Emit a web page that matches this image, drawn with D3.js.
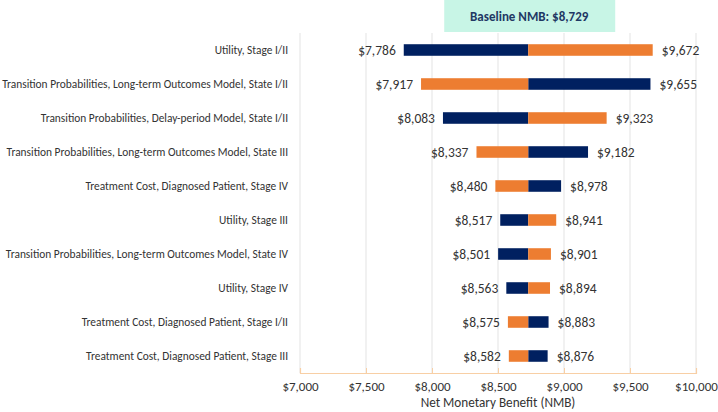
<!DOCTYPE html>
<html><head><meta charset="utf-8">
<script src="https://cdn.jsdelivr.net/npm/d3@7"></script>
<style>body{margin:0;background:#fff;} svg{display:block;font-family:Carlito,Lato,"Open Sans",sans-serif;}</style>
</head><body><svg id="c" width="718" height="412"></svg>
<script>
const parameters = [
  "Utility, Stage I/II",
  "Transition Probabilities, Long-term Outcomes Model, State I/II",
  "Transition Probabilities, Delay-period Model, State I/II",
  "Transition Probabilities, Long-term Outcomes Model, State III",
  "Treatment Cost, Diagnosed Patient, Stage IV",
  "Utility, Stage III",
  "Transition Probabilities, Long-term Outcomes Model, State IV",
  "Utility, Stage IV",
  "Treatment Cost, Diagnosed Patient, Stage I/II",
  "Treatment Cost, Diagnosed Patient, Stage III"
];
const navyValues = [7786, 9655, 8083, 9182, 8978, 8517, 8501, 8563, 8883, 8876];
const orangeValues = [9672, 7917, 9323, 8337, 8480, 8941, 8901, 8894, 8575, 8582];
const baseline = 8729;
const xTicks = [7000, 7500, 8000, 8500, 9000, 9500, 10000];
const xTitle = "Net Monetary Benefit (NMB)";
const baselineLabel = "Baseline NMB: $8,729";

const NAVY = "#002060", ORANGE = "#ED7D31";
const svg = d3.select("#c");
const m = {l: 300, r: 22, t: 33, b: 39};
const W = 718, H = 412;
const x = d3.scaleLinear().domain([7000, 10000]).range([m.l, W - m.r]);
const y = d3.scaleBand().domain(parameters).range([m.t, H - m.b]).paddingInner(0.66).paddingOuter(0.33);
const fmt = v => "$" + d3.format(",")(v);

// gridlines
svg.append("g").selectAll("line").data(xTicks).join("line")
  .attr("x1", d => x(d)).attr("x2", d => x(d))
  .attr("y1", m.t).attr("y2", H - m.b)
  .attr("stroke", "#e3e3e3").attr("stroke-width", 1);

// baseline box
svg.append("rect").attr("x", x(baseline) - 84).attr("y", 0).attr("width", 171).attr("height", 32)
  .attr("fill", "#c8f5e6");
svg.append("text").attr("x", x(baseline) + 1).attr("y", 21).attr("text-anchor", "middle")
  .attr("font-size", 13).attr("font-weight", "bold").attr("fill", "#1f3864").text(baselineLabel);

// axis
const ax = svg.append("g").attr("transform", `translate(0,${H - m.b})`)
  .call(d3.axisBottom(x).tickValues(xTicks).tickFormat(fmt).tickSize(-5).tickPadding(9));
ax.select(".domain").attr("stroke", "#f8cfa5").attr("stroke-width", 1.2);
ax.selectAll(".tick line").attr("stroke", "#f8cfa5");
ax.selectAll(".tick text").attr("font-size", 13).attr("fill", "#333").attr("font-family", "Carlito,Lato,sans-serif");

svg.append("text").attr("x", x(8500)).attr("y", 407).attr("text-anchor", "middle")
  .attr("font-size", 13.2).attr("fill", "#333").text(xTitle);

// category labels
svg.append("g").selectAll("text").data(parameters).join("text")
  .attr("x", 288).attr("y", d => y(d) + y.bandwidth() / 2).attr("dy", "0.35em")
  .attr("text-anchor", "end").attr("font-size", 11.4).attr("fill", "#333").text(d => d);

// bars
const rows = parameters.map((p, i) => ({p, navy: navyValues[i], orange: orangeValues[i]}));
const bars = [];
rows.forEach(r => {
  bars.push({p: r.p, v: r.navy, c: NAVY});
  bars.push({p: r.p, v: r.orange, c: ORANGE});
});
svg.append("g").selectAll("rect").data(bars).join("rect")
  .attr("x", d => Math.min(x(d.v), x(baseline)))
  .attr("width", d => Math.abs(x(d.v) - x(baseline)))
  .attr("y", d => y(d.p)).attr("height", y.bandwidth())
  .attr("fill", d => d.c);

// value labels
svg.append("g").selectAll("text").data(bars).join("text")
  .attr("x", d => d.v < baseline ? x(d.v) - 8 : x(d.v) + 9)
  .attr("y", d => y(d.p) + y.bandwidth() / 2).attr("dy", "0.35em")
  .attr("text-anchor", d => d.v < baseline ? "end" : "start")
  .attr("font-size", 13.5).attr("fill", "#333").text(d => fmt(d.v));
</script></body></html>
